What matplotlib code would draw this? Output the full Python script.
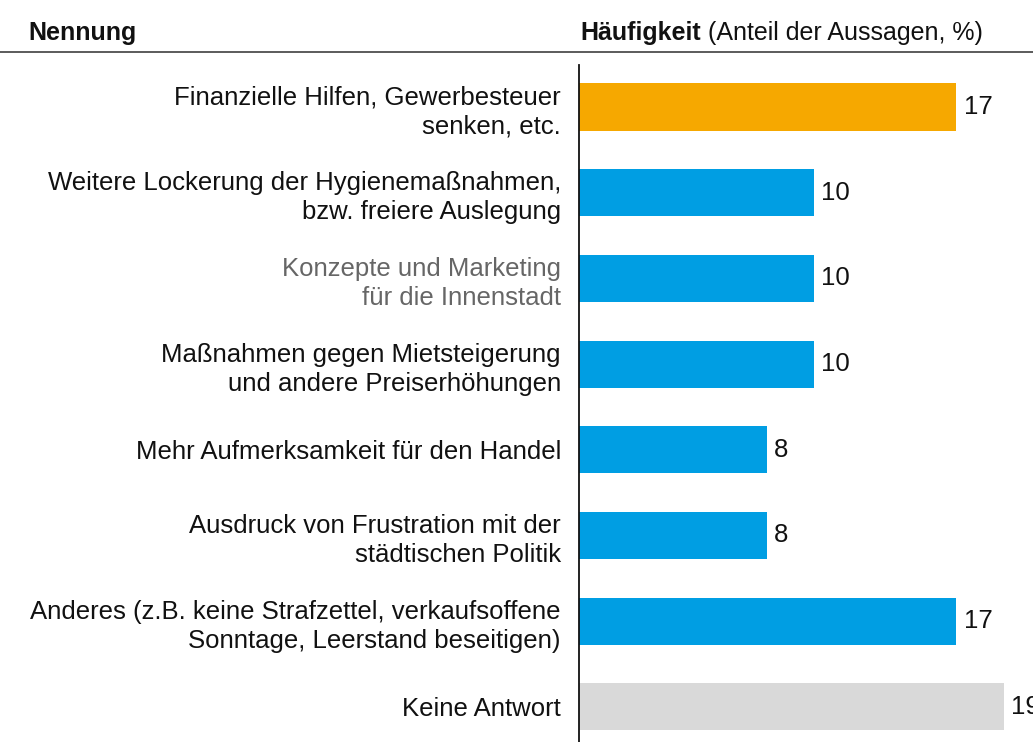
import matplotlib.pyplot as plt
from matplotlib.lines import Line2D

plt.rcParams['font.family'] = ['Liberation Sans', 'DejaVu Sans']

kategorien = [
    "Finanzielle Hilfen, Gewerbesteuer\nsenken, etc.",
    "Weitere Lockerung der Hygienemaßnahmen,\nbzw. freiere Auslegung",
    "Konzepte und Marketing\nfür die Innenstadt",
    "Maßnahmen gegen Mietsteigerung\nund andere Preiserhöhungen",
    "Mehr Aufmerksamkeit für den Handel",
    "Ausdruck von Frustration mit der\nstädtischen Politik",
    "Anderes (z.B. keine Strafzettel, verkaufsoffene\nSonntage, Leerstand beseitigen)",
    "Keine Antwort",
]
anteile = [16.7, 10.4, 10.4, 10.4, 8.3, 8.3, 16.7, 18.8]
beschriftung = ["17", "10", "10", "10", "8", "8", "17", "19"]
farben = ["#F6A800", "#009EE3", "#009EE3", "#009EE3", "#009EE3", "#009EE3",
          "#009EE3", "#D9D9D9"]

fs = 18.5

fig = plt.figure(figsize=(10.33, 7.42), dpi=100)
ax = fig.add_axes([579 / 1033, 0, 454 / 1033, (742 - 65) / 742])

pos = list(range(len(kategorien)))
ax.barh(pos, anteile, height=0.55, color=farben)
for i, v in enumerate(anteile):
    ax.text(v + 0.32, i, beschriftung[i], va="center", ha="left", fontsize=fs,
            color="#111111")

ax.set_xlim(0, 20.09)
ax.set_ylim(7.41, -0.49)
ax.set_yticks(pos, kategorien)
ax.tick_params(axis="y", length=0, pad=13, labelsize=fs, labelcolor="#111111")
for t in ax.get_yticklabels():
    t.set_linespacing(1.27)
ax.get_yticklabels()[2].set_color("#666666")
ax.set_xticks([])
for s in ["top", "right", "bottom"]:
    ax.spines[s].set_visible(False)
ax.spines["left"].set_linewidth(1.3)
ax.spines["left"].set_color("#111111")

# Kopfzeile
fig.text(28 / 1033, 1 - 33 / 742, "Nennung", fontsize=18, fontweight="bold",
         va="center", ha="left", color="#111111")
h = fig.text(580 / 1033, 1 - 33 / 742, "Häufigkeit", fontsize=18,
             fontweight="bold", va="center", ha="left", color="#111111")
ax.annotate(" (Anteil der Aussagen, %)", xy=(1, 0), xycoords=h, va="bottom",
            ha="left", fontsize=18, color="#111111", annotation_clip=False)
fig.add_artist(Line2D([0, 1], [1 - 52 / 742, 1 - 52 / 742],
                      transform=fig.transFigure, color="#404040", lw=1.2))

fig.savefig("out.png", dpi=100)
